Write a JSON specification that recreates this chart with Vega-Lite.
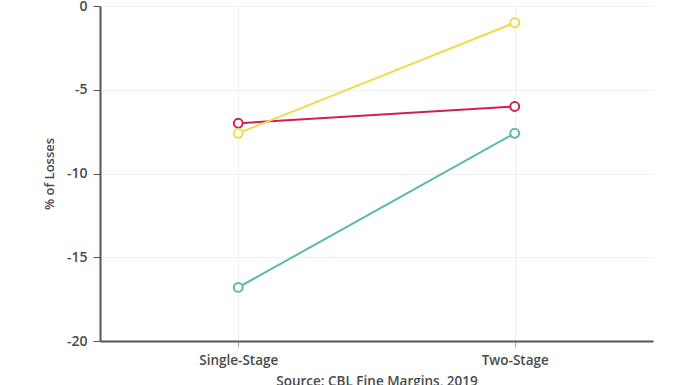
{
  "$schema": "https://vega.github.io/schema/vega-lite/v6.json",
  "width": 553,
  "height": 335,
  "autosize": {"type": "none"},
  "padding": {"left": 100, "top": 6, "right": 43, "bottom": 44},
  "background": "white",
  "config": {
    "view": {"stroke": null},
    "font": "Open Sans"
  },
  "data": {
    "values": [
      {"stage": "Single-Stage", "series": "A", "loss": -7.0},
      {"stage": "Two-Stage", "series": "A", "loss": -6.0},
      {"stage": "Single-Stage", "series": "B", "loss": -7.6},
      {"stage": "Two-Stage", "series": "B", "loss": -1.0},
      {"stage": "Single-Stage", "series": "C", "loss": -16.8},
      {"stage": "Two-Stage", "series": "C", "loss": -7.6}
    ]
  },
  "encoding": {
    "x": {
      "field": "stage",
      "type": "ordinal",
      "sort": ["Single-Stage", "Two-Stage"],
      "scale": {"type": "point", "padding": 0.5},
      "axis": {
        "title": "Source: CBL Fine Margins, 2019",
        "titleFont": "Open Sans",
        "titleFontSize": 13.5,
        "titleFontWeight": 600,
        "titleColor": "#4a4a4a",
        "titlePadding": 8,
        "labelAngle": 0,
        "labelFont": "Open Sans",
        "labelFontSize": 13.5,
        "labelFontWeight": 600,
        "labelColor": "#4a4a4a",
        "labelPadding": 6,
        "domainColor": "#555555",
        "domainWidth": 2,
        "tickColor": "#aaaaaa",
        "tickSize": 6,
        "grid": true,
        "gridColor": "#f0f0f0"
      }
    },
    "y": {
      "field": "loss",
      "type": "quantitative",
      "scale": {"domain": [-20, 0], "nice": false},
      "axis": {
        "title": "% of Losses",
        "titleFont": "Open Sans",
        "titleFontSize": 13,
        "titleFontWeight": 600,
        "titleColor": "#4a4a4a",
        "titlePadding": 10,
        "values": [0, -5, -10, -15, -20],
        "labelExpr": "datum.value == 0 ? '0' : '-' + abs(datum.value)",
        "labelFont": "Open Sans",
        "labelFontSize": 14,
        "labelFontWeight": 600,
        "labelColor": "#4a4a4a",
        "labelPadding": 6,
        "domainColor": "#555555",
        "domainWidth": 2,
        "tickColor": "#555555",
        "tickSize": 7,
        "grid": true,
        "gridColor": "#f0f0f0"
      }
    },
    "color": {
      "field": "series",
      "type": "nominal",
      "scale": {"domain": ["A", "B", "C"], "range": ["#cf2150", "#f0d94a", "#5ab9ad"]},
      "legend": null
    }
  },
  "layer": [
    {"mark": {"type": "line", "strokeWidth": 2}},
    {"mark": {"type": "point", "shape": "circle", "size": 80, "filled": false, "fill": "white", "fillOpacity": 1, "strokeWidth": 2, "opacity": 1}}
  ]
}
